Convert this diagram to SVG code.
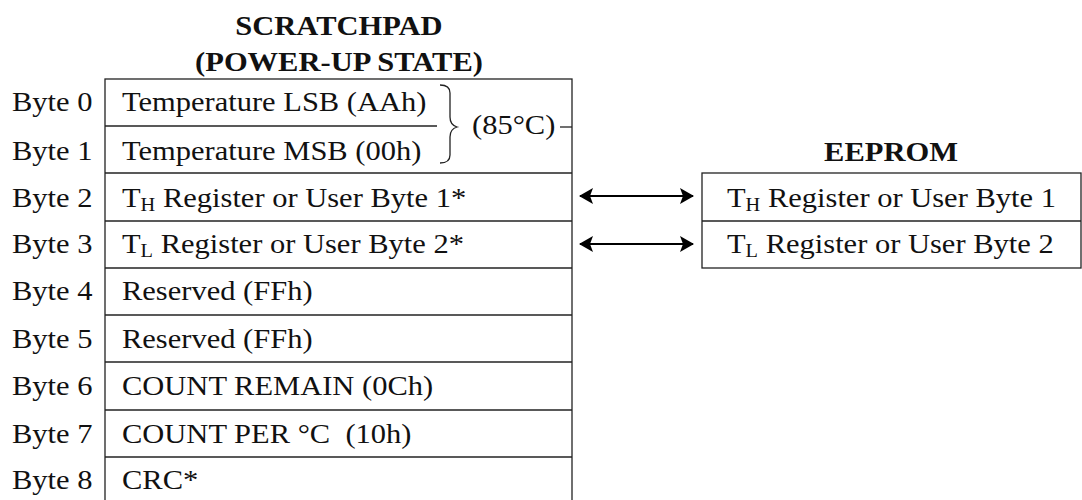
<svg xmlns="http://www.w3.org/2000/svg" width="1082" height="500" viewBox="0 0 1082 500">
  <style>
    .t { font-family: "Liberation Serif", "Times New Roman", serif; font-size: 27px; fill: #111;
         transform-box: fill-box; transform-origin: left center; transform: scaleX(1.13); }
    .hd { font-weight: bold; text-anchor: middle; transform-origin: center; }
    .sub { font-size: 18px; }
    .cell { fill: #fff; stroke: #222; stroke-width: 1.3; }
    .rule { stroke: #222; stroke-width: 1.3; fill: none; }
    .arrow { stroke: #000; stroke-width: 2.2; fill: none; marker-start: url(#head); marker-end: url(#head); }
  </style>
  <defs>
    <marker id="head" viewBox="0 0 14 16" refX="13" refY="8" markerWidth="14" markerHeight="16"
            markerUnits="userSpaceOnUse" orient="auto-start-reverse">
      <path d="M0,0 L14,8 L0,16 L3,8 Z" fill="#000"/>
    </marker>
  </defs>
  <rect width="1082" height="500" fill="#fff"/>

  <!-- Scratchpad memory map -->
  <g id="scratchpad">
    <text class="t hd" x="339" y="35">SCRATCHPAD</text>
    <text class="t hd" x="339" y="71">(POWER-UP STATE)</text>
    <rect class="cell" x="105" y="79" width="467" height="440"/>

    <g id="byte0">
      <text class="t" x="12" y="111">Byte 0</text>
      <text class="t" x="122" y="111">Temperature LSB (AAh)</text>
      <line class="rule" x1="105" y1="126" x2="437" y2="126"/>
    </g>
    <g id="byte1">
      <text class="t" x="12" y="160">Byte 1</text>
      <text class="t" x="122" y="160">Temperature MSB (00h)</text>
      <line class="rule" x1="105" y1="173" x2="572" y2="173"/>
    </g>
    <g id="temp-note">
      <path class="rule" d="M440,85 Q450,85 450,93 L450,117 Q450,125 457,127 Q450,129 450,137 L450,155 Q450,163 440,163"/>
      <text class="t" x="472" y="134">(85°C)</text>
      <line class="rule" x1="560" y1="127" x2="572" y2="127"/>
    </g>
    <g id="byte2">
      <text class="t" x="12" y="207">Byte 2</text>
      <text class="t" x="122" y="207">T<tspan class="sub" dy="4">H</tspan><tspan dy="-4"> Register or User Byte 1*</tspan></text>
      <line class="rule" x1="105" y1="221" x2="572" y2="221"/>
    </g>
    <g id="byte3">
      <text class="t" x="12" y="253">Byte 3</text>
      <text class="t" x="122" y="253">T<tspan class="sub" dy="4">L</tspan><tspan dy="-4"> Register or User Byte 2*</tspan></text>
      <line class="rule" x1="105" y1="268" x2="572" y2="268"/>
    </g>
    <g id="byte4">
      <text class="t" x="12" y="300">Byte 4</text>
      <text class="t" x="122" y="300">Reserved (FFh)</text>
      <line class="rule" x1="105" y1="315" x2="572" y2="315"/>
    </g>
    <g id="byte5">
      <text class="t" x="12" y="348">Byte 5</text>
      <text class="t" x="122" y="348">Reserved (FFh)</text>
      <line class="rule" x1="105" y1="362" x2="572" y2="362"/>
    </g>
    <g id="byte6">
      <text class="t" x="12" y="395">Byte 6</text>
      <text class="t" x="122" y="395">COUNT REMAIN (0Ch)</text>
      <line class="rule" x1="105" y1="410" x2="572" y2="410"/>
    </g>
    <g id="byte7">
      <text class="t" x="12" y="443">Byte 7</text>
      <text class="t" x="122" y="443" xml:space="preserve">COUNT PER °C  (10h)</text>
      <line class="rule" x1="105" y1="457" x2="572" y2="457"/>
    </g>
    <g id="byte8">
      <text class="t" x="12" y="489">Byte 8</text>
      <text class="t" x="122" y="489">CRC*</text>
    </g>
  </g>

  <!-- EEPROM copy of the alarm / user bytes -->
  <g id="eeprom">
    <text class="t hd" x="891" y="161">EEPROM</text>
    <rect class="cell" x="702" y="173" width="379" height="95"/>
    <line class="rule" x1="702" y1="221" x2="1081" y2="221"/>
    <g id="eeprom-th">
      <text class="t" x="727" y="207">T<tspan class="sub" dy="4">H</tspan><tspan dy="-4"> Register or User Byte 1</tspan></text>
    </g>
    <g id="eeprom-tl">
      <text class="t" x="727" y="253">T<tspan class="sub" dy="4">L</tspan><tspan dy="-4"> Register or User Byte 2</tspan></text>
    </g>
  </g>

  <!-- Two-way transfers between scratchpad and EEPROM -->
  <g id="connectors">
    <line class="arrow" x1="580" y1="196" x2="693" y2="196"/>
    <line class="arrow" x1="580" y1="244" x2="693" y2="244"/>
  </g>
</svg>
